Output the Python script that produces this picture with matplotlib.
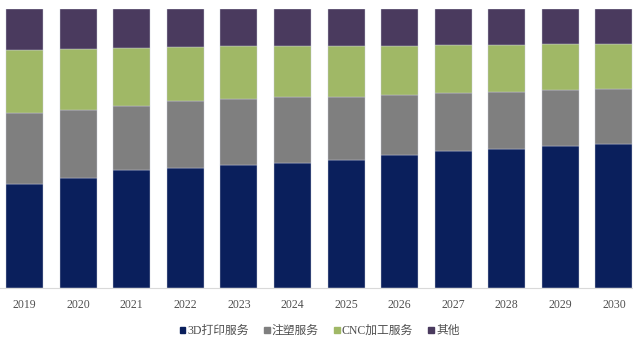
import matplotlib.pyplot as plt
import numpy as np
from matplotlib.patches import Patch

plt.rcParams['font.family'] = ['Liberation Serif', 'Noto Sans CJK SC', 'DejaVu Sans']

years = ['2019', '2020', '2021', '2022', '2023', '2024',
         '2025', '2026', '2027', '2028', '2029', '2030']
series_names = ['3D打印服务', '注塑服务', 'CNC加工服务', '其他']

# market share, percent
print_3d = [37.3, 39.3, 42.2, 43.1, 44.0, 44.9, 46.0, 47.8, 49.1, 49.9, 50.9, 51.7]
injection = [25.4, 24.5, 23.2, 23.8, 23.9, 23.5, 22.5, 21.4, 20.7, 20.3, 20.0, 19.5]
cnc = [22.6, 21.8, 20.6, 19.4, 18.8, 18.2, 18.2, 17.7, 17.2, 16.8, 16.6, 16.2]
other = [14.7, 14.4, 14.0, 13.7, 13.3, 13.4, 13.3, 13.1, 13.0, 13.0, 12.5, 12.6]

colors = ['#0a1f5c', '#7f7f7f', '#a0b866', '#4a3a5e']


def main():
    fig = plt.figure(figsize=(6.33, 3.42), dpi=100)
    ax = fig.add_axes([0, 1 - 288 / 342, 1, 279 / 342])

    x = np.arange(len(years))
    bottom = np.zeros(len(years))
    for vals, color in zip([print_3d, injection, cnc, other], colors):
        ax.bar(x, vals, width=0.69, bottom=bottom, color=color,
               edgecolor='#c8cbd8', linewidth=0.3)
        bottom += np.array(vals)

    ax.set_xlim(-0.457, 11.355)
    ax.set_ylim(0, 100)
    ax.set_yticks([])
    ax.set_xticks(x)
    ax.set_xticklabels(years, fontsize=8.5, color='#505050')
    ax.tick_params(axis='x', length=0, pad=8)
    for side in ['top', 'right', 'left']:
        ax.spines[side].set_visible(False)
    ax.spines['bottom'].set_color('#d9d9d9')
    ax.spines['bottom'].set_linewidth(0.8)

    handles = [Patch(color=c) for c in colors]
    fig.legend(handles, series_names, loc='center', bbox_to_anchor=(0.505, 1 - 331 / 342),
               ncol=4, frameon=False, fontsize=8.5, handlelength=0.45, handleheight=0.45,
               handletextpad=0.2, columnspacing=1.3, labelcolor='#505050')

    fig.savefig('out.png', dpi=100)


if __name__ == "__main__":
    main()
